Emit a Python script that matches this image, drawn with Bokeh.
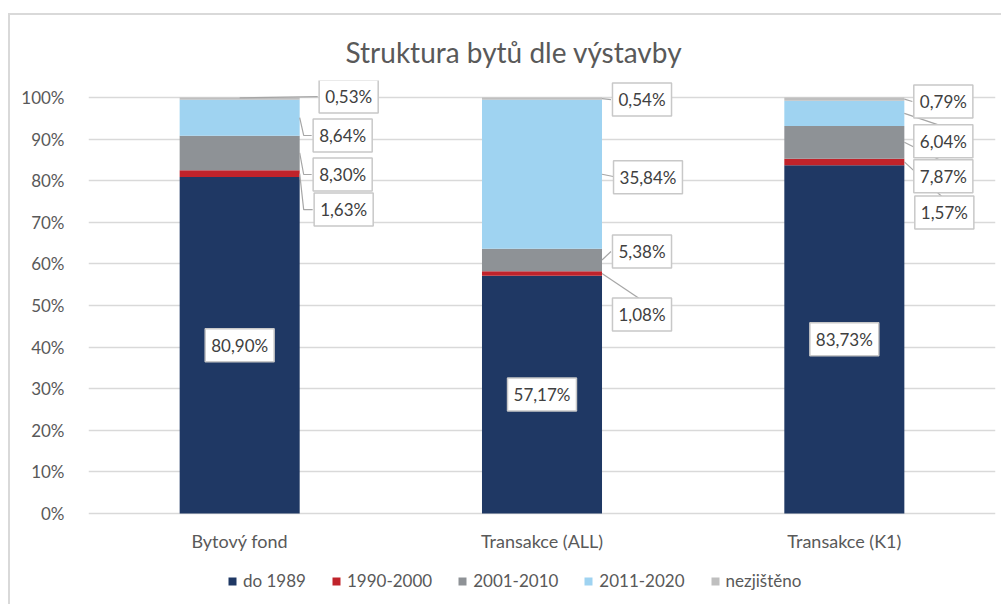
from bokeh.plotting import figure
from bokeh.models import (Range1d, FixedTicker, Legend, LegendItem,
                          NumeralTickFormatter)
from bokeh.core.properties import value
from bokeh.embed import file_html
from bokeh.resources import INLINE

# ---------------- data ----------------
categories = ["Bytový fond", "Transakce (ALL)", "Transakce (K1)"]
series = ["do 1989", "1990-2000", "2001-2010", "2011-2020", "nezjištěno"]
do_1989 = [80.90, 57.17, 83.73]
y1990_2000 = [1.63, 1.08, 1.57]
y2001_2010 = [8.30, 5.38, 7.87]
y2011_2020 = [8.64, 35.84, 6.04]
nezjisteno = [0.53, 0.54, 0.79]
y_ticks = [0, 10, 20, 30, 40, 50, 60, 70, 80, 90, 100]

# ---------------- styles / layout ----------------
colors = ["#1F3864", "#C0232B", "#8E9296", "#9FD3F1", "#BFBFBF"]
FONT = "Lato"
TXT = "#595959"
LBL = "#404040"
ML, MR, MT = 88, 6, 80
FW = 907
PXY = 416.0                    # px per 100 %
TOP_PAD, BOTTOM_PAD = 17, 91   # px above 100 % / below 0 %
FH = int(round(PXY * 1.0 + TOP_PAD + BOTTOM_PAD))
Y_START = -BOTTOM_PAD / PXY
Y_END = 1.0 + TOP_PAD / PXY
BAR_W = 0.397
PXX = FW / 3.0                 # px per category
CAT_LABEL_DY = 27              # px below 0 % for category labels

# label placement (px): dx from bar centre, dy from segment middle, leader kind
lab_dx = [[None, 104, 103, 103, 109],
          [None, 100, 100, 106, 100],
          [None, 100, 99, 99, 99]]
lab_dy = [[None, 36, 21.6, 17.8, -2],
          [None, 41, -8.5, 3, 1],
          [None, 50.6, 34, 28, 2.4]]
lab_kind = [[None, "elbow", "elbow", "elbow", "center"],
            [None, "top", "left", "left", "left"],
            [None, "top", "top", "top", "left"]]
BOX_HW, BOX_HH = 31, 15.5

values = [do_1989, y1990_2000, y2001_2010, y2011_2020, nezjisteno]
xs = list(range(len(categories)))

p = figure(frame_width=FW, frame_height=FH, output_backend="svg",
           toolbar_location=None,
           x_range=Range1d(-0.5, 2.5), y_range=Range1d(Y_START, Y_END),
           min_border_left=ML, min_border_right=MR, min_border_top=MT,
           min_border_bottom=0, background_fill_color="white",
           border_fill_alpha=0, outline_line_color=None,
           title="Struktura bytů dle výstavby")

# outer chart-area border (left + top edge), drawn as host background
p.styles = {
    "background-color": "white",
    "background-image": "linear-gradient(#D9D9D9,#D9D9D9), linear-gradient(#D9D9D9,#D9D9D9)",
    "background-size": "2px 700px, 1100px 2px",
    "background-position": "8px 13px, 8px 13px",
    "background-repeat": "no-repeat",
}

p.title.align = "left"
p.title.text_font = FONT
p.title.text_font_size = "28px"
p.title.text_font_style = "normal"
p.title.text_color = TXT
p.title.offset = 257
p.title.standoff = 23

# stacked bars
renderers = []
bottoms = [0.0] * len(xs)
seg_mid = []
for s, vals, col in zip(series, values, colors):
    tops = [b + v / 100.0 for b, v in zip(bottoms, vals)]
    r = p.vbar(x=xs, bottom=bottoms, top=tops, width=BAR_W, fill_color=col,
               line_color=None)
    renderers.append(r)
    seg_mid.append([(b + t) / 2 for b, t in zip(bottoms, tops)])
    bottoms = tops

def fmt(v):
    return f"{v:.2f}".replace(".", ",") + "%"

# leader lines + outside labels
lx, ly, lt = [], [], []
leader_xs, leader_ys = [], []
for ci in xs:
    edge = ci + BAR_W / 2
    for si in range(1, len(series)):
        m = seg_mid[si][ci]
        cx = ci + lab_dx[ci][si] / PXX
        cy = m - lab_dy[ci][si] / PXY
        lx.append(cx); ly.append(cy); lt.append(fmt(values[si][ci]))
        kind = lab_kind[ci][si]
        left = cx - BOX_HW / PXX
        if kind == "elbow":
            leader_xs.append([edge, edge + 4 / PXX, left])
            leader_ys.append([m, cy, cy])
        elif kind == "center":
            leader_xs.append([ci, left])
            leader_ys.append([bottoms[ci] - 0.001, cy])
        elif kind == "left":
            leader_xs.append([edge, left])
            leader_ys.append([m, cy])
        else:  # top
            leader_xs.append([edge, cx - 2 / PXX])
            leader_ys.append([m, cy + BOX_HH / PXY])

p.multi_line(xs=leader_xs, ys=leader_ys, line_color="#A6A6A6", line_width=1.2)

box_style = dict(text_align="center", text_baseline="middle",
                 text_font=value(FONT), text_font_size="17px", text_color=LBL,
                 background_fill_color="white", border_line_color="#C8C8C8",
                 border_line_width=1.5, padding=6)

p.text(x=lx, y=ly, text=lt, **box_style)

# inner labels for "do 1989"
p.text(x=xs, y=[v / 200.0 for v in do_1989], text=[fmt(v) for v in do_1989],
       **box_style)

# category labels under the bars
p.text(x=xs, y=[-CAT_LABEL_DY / PXY] * len(xs), text=categories,
       text_align="center", text_baseline="middle", text_font=value(FONT),
       text_font_size="18px", text_color=TXT)

# axes
p.yaxis.ticker = FixedTicker(ticks=[t / 100 for t in y_ticks])
p.yaxis.formatter = NumeralTickFormatter(format="0%")
p.yaxis.axis_line_color = None
p.yaxis.major_tick_line_color = None
p.yaxis.minor_tick_line_color = None
p.yaxis.major_label_text_font = FONT
p.yaxis.major_label_text_font_size = "17px"
p.yaxis.major_label_text_color = TXT
p.yaxis.major_label_standoff = 18
p.xaxis.visible = False
p.xgrid.grid_line_color = None
p.ygrid.grid_line_color = "#D9D9D9"
p.ygrid.grid_line_width = 1.5

legend = Legend(items=[LegendItem(label=s, renderers=[r]) for s, r in zip(series, renderers)],
                orientation="horizontal", location=(139, 13),
                glyph_width=10, glyph_height=10, label_standoff=6, spacing=25,
                label_text_font=FONT, label_text_font_size="17px",
                label_text_color=TXT, border_line_color=None,
                background_fill_alpha=0, padding=0, margin=0)
p.add_layout(legend, "center")

open("out.html", "w").write(file_html(p, INLINE))
